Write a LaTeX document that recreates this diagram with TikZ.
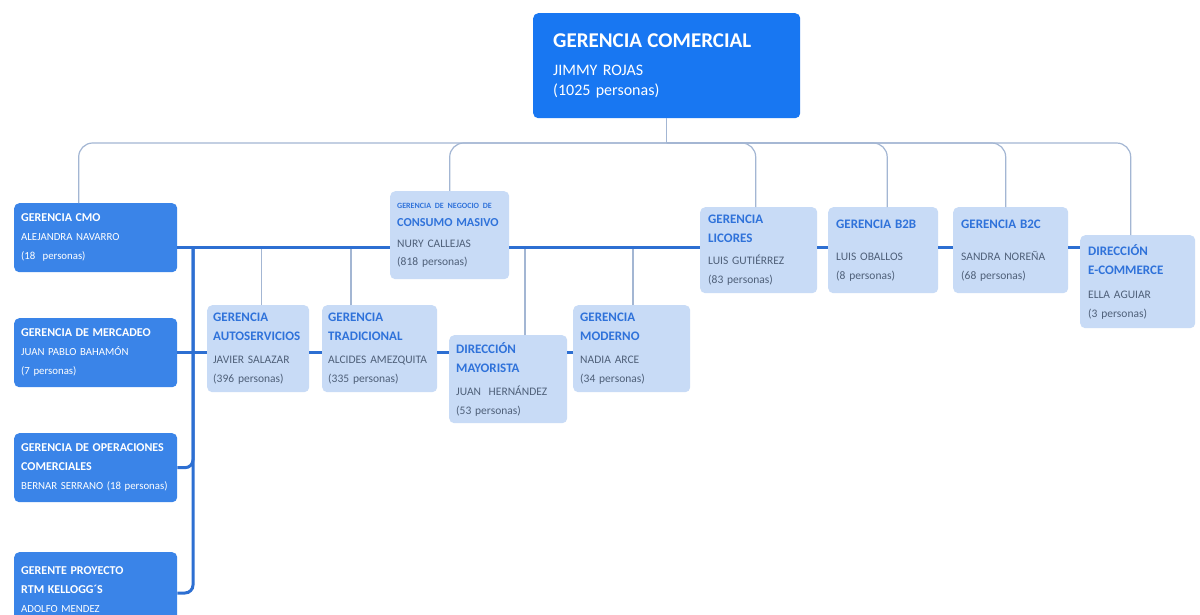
\documentclass[tikz,border=0pt]{standalone}
\usepackage{fontspec}
\setmainfont{Carlito}
\usetikzlibrary{calc}
\definecolor{topblue}{HTML}{1877F2}
\definecolor{dblue}{HTML}{3A84E8}
\definecolor{lfill}{HTML}{C8DBF6}
\definecolor{ttl}{HTML}{2F72DA}
\definecolor{ngray}{HTML}{4F6079}
\definecolor{connc}{HTML}{A3B6D3}
\definecolor{spinec}{HTML}{2D6FD2}
\begin{document}
\begin{tikzpicture}[x=1pt,y=-1pt,
  dbox/.style={fill=dblue, rounded corners=5pt, anchor=north west, align=left, inner xsep=7pt, inner ysep=3pt, text=white, font=\fontsize{10.8}{19}\selectfont},
  lbox/.style={fill=lfill, rounded corners=5pt, anchor=north west, align=left, inner xsep=7pt, inner ysep=3pt, text=ngray, font=\fontsize{11.5}{19}\selectfont},
  thinc/.style={draw=connc, line width=1.2pt},
  thickc/.style={draw=spinec, line width=3pt}]
\useasboundingbox (0,0) rectangle (1200,615);
\fill[white] (0,0) rectangle (1200,615);

% top
\node[fill=topblue, rounded corners=5pt, anchor=north west, align=left, inner xsep=20pt, text=white,
  minimum width=267pt, minimum height=105pt, text width=227pt, font=\fontsize{16}{20}\selectfont]
  (top) at (533,13) {{\fontsize{21}{24}\selectfont\bfseries GERENCIA COMERCIAL}\\[8pt]JIMMY ROJAS\\(1025 personas)};

% left dark boxes
\newcommand\dt[1]{{\fontsize{12}{19}\selectfont\bfseries #1}}
\node[dbox, minimum width=163pt, minimum height=69pt, text width=149pt] (cmo) at (14,203)
  {\dt{GERENCIA CMO}\\ALEJANDRA NAVARRO\\(18\ \ personas)};
\node[dbox, minimum width=163pt, minimum height=69pt, text width=149pt] (merc) at (14,318)
  {\dt{GERENCIA DE MERCADEO}\\JUAN PABLO BAHAMÓN\\(7 personas)};
\node[dbox, minimum width=163pt, minimum height=69pt, text width=149pt] (ops) at (14,433)
  {\dt{GERENCIA DE OPERACIONES}\\\dt{COMERCIALES}\\BERNAR SERRANO (18 personas)};
\node[dbox, minimum width=163pt, minimum height=75pt, text width=149pt] (proj) at (14,552)
  {\dt{GERENTE PROYECTO}\\\dt{RTM KELLOGG´S}\\ADOLFO MENDEZ};

% light boxes
\newcommand\lt[1]{{\color{ttl}\fontsize{13}{19}\selectfont\bfseries\mbox{#1}}}
\node[lbox, minimum width=119pt, minimum height=88pt, text width=105pt, font=\fontsize{11.5}{18}\selectfont] (cons) at (390,191)
  {{\color{ttl}\fontsize{8}{8}\selectfont\bfseries GERENCIA DE NEGOCIO DE}\\{\color{ttl}\fontsize{12.2}{18}\selectfont\bfseries\mbox{CONSUMO MASIVO}}\\[3pt]NURY CALLEJAS\\(818 personas)};
\node[lbox, minimum width=102pt, minimum height=87pt, text width=90pt, inner xsep=6pt] (auto) at (207,305)
  {\lt{GERENCIA}\\\lt{AUTOSERVICIOS}\\[4pt]JAVIER SALAZAR\\(396 personas)};
\node[lbox, minimum width=115pt, minimum height=87pt, text width=103pt, inner xsep=6pt] (trad) at (322,305)
  {\lt{GERENCIA}\\\lt{TRADICIONAL}\\[4pt]ALCIDES AMEZQUITA\\(335 personas)};
\node[lbox, minimum width=118pt, minimum height=88pt, text width=104pt] (mayor) at (449,335)
  {\lt{DIRECCIÓN}\\\lt{MAYORISTA}\\[4pt]JUAN\ \ HERNÁNDEZ\\(53 personas)};
\node[lbox, minimum width=117pt, minimum height=87pt, text width=103pt] (mod) at (573,305)
  {\lt{GERENCIA}\\\lt{MODERNO}\\[4pt]NADIA ARCE\\(34 personas)};
\node[lbox, minimum width=117pt, minimum height=86pt, text width=101pt, inner xsep=8pt] (lic) at (700,207)
  {\lt{GERENCIA}\\\lt{LICORES}\\[3pt]LUIS GUTIÉRREZ\\(83 personas)};
\node[lbox, minimum width=110pt, minimum height=86pt, text width=94pt, inner xsep=8pt] (b2b) at (828,207)
  {\lt{GERENCIA B2B}\\[13pt]LUIS OBALLOS\\(8 personas)};
\node[lbox, minimum width=115pt, minimum height=86pt, text width=99pt, inner xsep=8pt] (b2c) at (953,207)
  {\lt{GERENCIA B2C}\\[13pt]SANDRA NOREÑA\\(68 personas)};
\node[lbox, minimum width=115pt, minimum height=93pt, text width=99pt, inner xsep=8pt] (ecom) at (1080,235)
  {\lt{DIRECCIÓN}\\\lt{E-COMMERCE}\\[5pt]ELLA AGUIAR\\(3 personas)};

% top bus
\coordinate (bus) at (top.south |- 0,143);
\coordinate (sp) at (193,247);
\draw[thinc] (top.south) -- (bus);
\draw[thinc, rounded corners=14pt] (bus) -| ([xshift=-17pt]cmo.north);
\draw[thinc, rounded corners=14pt] (bus) -| (cons.north);
\draw[thinc, rounded corners=14pt] (bus) -| ([xshift=-3pt]lic.north);
\draw[thinc, rounded corners=14pt] (bus) -| ([xshift=4pt]b2b.north);
\draw[thinc, rounded corners=14pt] (bus) -| ([xshift=-5pt]b2c.north);
\draw[thinc, rounded corners=14pt] (bus) -| ([xshift=-7pt]ecom.north);

% thin drops from spine
\draw[thinc] ([xshift=3pt]auto.north) -- ([xshift=3pt]auto.north |- sp);
\draw[thinc] ([xshift=29pt]trad.north west) -- ([xshift=29pt]trad.north west |- sp);
\draw[thinc] ([xshift=76pt]mayor.north west) -- ([xshift=76pt]mayor.north west |- sp);
\draw[thinc] ([xshift=60pt]mod.north west) -- ([xshift=60pt]mod.north west |- sp);

% thick spine
\draw[thickc] (cmo.east |- sp) -- (cons.west |- sp);
\draw[thickc] (cons.east |- sp) -- (lic.west |- sp);
\draw[thickc] (lic.east |- sp) -- (b2b.west |- sp);
\draw[thickc] (b2b.east |- sp) -- (b2c.west |- sp);
\draw[thickc] (b2c.east |- sp) -- (ecom.west |- sp);
\draw[thickc, rounded corners=8pt] (sp) |- (ops.east);
\draw[thickc, rounded corners=8pt] (sp) |- ($(proj.north east)+(0,41)$);
\draw[thickc] (merc.east) -- (auto.west |- merc.east);
\draw[thickc] (auto.east |- merc.east) -- (trad.west |- merc.east);
\draw[thickc] (trad.east |- merc.east) -- (mayor.west |- merc.east);
\draw[thickc] (mayor.east |- merc.east) -- (mod.west |- merc.east);
\end{tikzpicture}
\end{document}
